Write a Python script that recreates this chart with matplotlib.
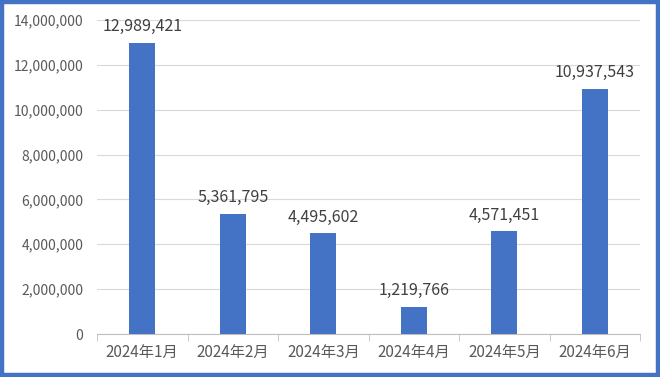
import matplotlib.pyplot as plt
from matplotlib.patches import Rectangle
from matplotlib.ticker import FuncFormatter

plt.rcParams['font.family'] = ['Noto Sans CJK SC', 'DejaVu Sans']

months = ['2024年1月', '2024年2月', '2024年3月', '2024年4月', '2024年5月', '2024年6月']
values = [12989421, 5361795, 4495602, 1219766, 4571451, 10937543]

bar_color = '#4472C4'
text_color = '#595959'

fig = plt.figure(figsize=(6.6, 3.77), dpi=100)
ax = fig.add_axes([0.147, 0.114, 0.823, 0.833])

x = range(len(months))
ax.bar(x, values, width=0.287, color=bar_color, zorder=3)

for i, v in enumerate(values):
    ax.annotate(f'{v:,}', (i, v), xytext=(0, 5.5), textcoords='offset points',
                ha='center', va='bottom', fontsize=11.5, color='#404040')

ax.set_ylim(0, 14000000)
ax.set_yticks(range(0, 14000001, 2000000))
ax.yaxis.set_major_formatter(FuncFormatter(lambda v, p: f'{int(v):,}'))
ax.set_xlim(-0.5, len(months) - 0.5)
ax.set_xticks(list(x))
ax.set_xticklabels(months)
ax.set_xticks([i - 0.5 for i in range(len(months) + 1)], minor=True)

ax.grid(axis='y', color='#D9D9D9', linewidth=0.8, zorder=0)
for s in ['top', 'right', 'left']:
    ax.spines[s].set_visible(False)
ax.spines['bottom'].set_color('#BFBFBF')
ax.tick_params(axis='y', length=0, labelsize=10, labelcolor=text_color, pad=10)
ax.tick_params(axis='x', which='major', length=0, labelsize=11, labelcolor=text_color, pad=7)
ax.tick_params(axis='x', which='minor', length=5, color='#BFBFBF')

# blue frame around the picture
fig.patches.append(Rectangle((0.003, 0.005), 0.994, 0.99, transform=fig.transFigure,
                             fill=False, edgecolor=bar_color, linewidth=3.2))

fig.savefig('out.png', dpi=100)
